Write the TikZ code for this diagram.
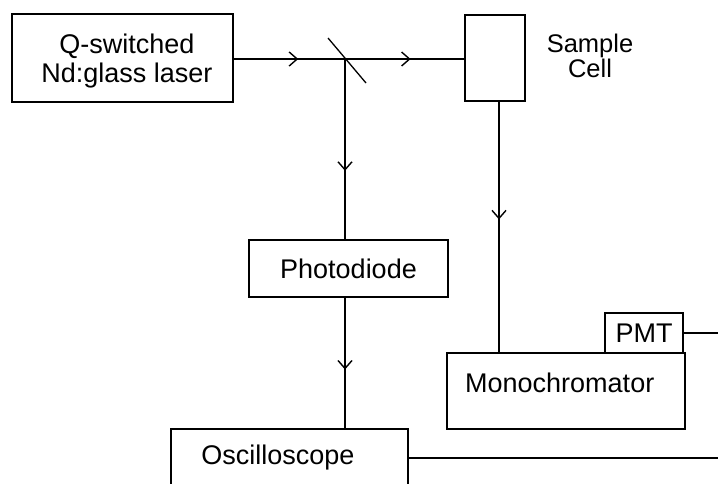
\documentclass[tikz,border=0pt]{standalone}
\usepackage{fontspec}
\setmainfont{Liberation Sans}
\usepackage{tikz}
\usetikzlibrary{arrows.meta,decorations.markings}
\tikzset{block/.style={draw,line width=1.3pt,inner sep=0pt},
    label text/.style={font=\fontsize{27}{29}\selectfont,inner sep=0pt,align=center},
    beam/.style={line width=1.3pt},
    midarrow/.style={postaction={decorate},decoration={markings,
        mark=at position #1 with {\arrow{Straight Barb[length=8pt,width=14pt,line width=1.4pt]}}}},
    x=1pt,y=-1pt}

\begin{document}
\begin{tikzpicture}
    \useasboundingbox (0,0) rectangle (718,483);
    \clip (0,0) rectangle (718,483);
    % boxes
    \node[block,minimum width=221pt,minimum height=88pt] (laser) at (122.5,58) {};
    \node[label text] (lasertext) at (127,61) {Q-switched\\Nd:glass laser};
    \node[block,minimum width=60pt,minimum height=86pt] (cell) at (495,58) {};
    \node[label text,font=\fontsize{25.5}{23}\selectfont] (celltext) at (590,56) {Sample\\Cell};
    \node[block,minimum width=199pt,minimum height=57pt] (diode) at (348.5,268.5) {};
    \node[label text] (diodetext) at (diode) {Photodiode};
    \node[block,minimum width=238pt,minimum height=76pt] (mono) at (566,391) {};
    \node[label text,anchor=west] (monotext) at (465,383) {Monochromator};
    \node[block,minimum width=78pt,minimum height=40pt] (pmt) at (644,333) {};
    \node[label text] (pmttext) at (pmt) {PMT};
    \node[block,minimum width=237pt,minimum height=130pt] (scope) at (289.5,494) {};
    \node[label text] (scopetext) at (278,458) {Oscilloscope};
    % beam and mirror
    \coordinate (split) at (345,59);
    \coordinate (mtop) at (328,38);
    \coordinate (mbot) at (366,83);
    \coordinate (pmtout) at (718,333);
    \coordinate (scopeout) at (718,458);
    \draw[line width=1.3pt] (mtop) -- (mbot);
    \draw[beam,midarrow=0.58] (laser.east |- split) -- (split);
    \draw[beam,midarrow=0.55] (split) -- (cell.west |- split);
    \draw[beam,midarrow=0.62] (split) -- (split |- diode.north);
    \draw[beam,midarrow=0.55] (split |- diode.south) -- (split |- scope.north);
    \draw[beam,midarrow=0.47] (499,101) -- (499,353);
    \draw[beam] (pmt.east |- pmtout) -- (pmtout);
    \draw[beam] (scope.east |- scopeout) -- (scopeout);
\end{tikzpicture}
\end{document}
